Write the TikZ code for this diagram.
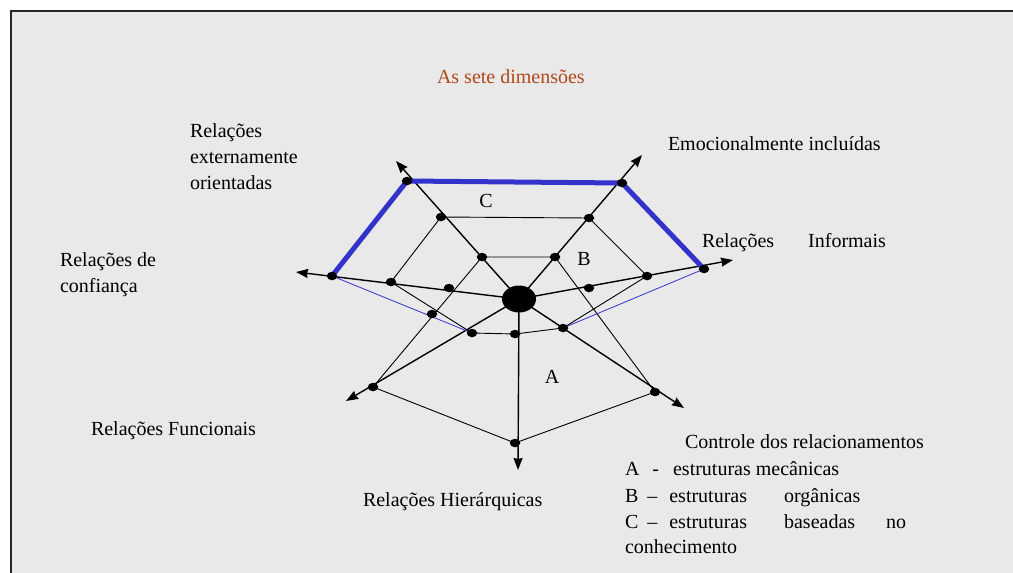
\documentclass[tikz,border=0pt]{standalone}
\usepackage{fontspec}
\setmainfont{Liberation Serif}
\usetikzlibrary{arrows.meta,shapes.geometric}
\definecolor{panel}{HTML}{E9E9E9}
\definecolor{titlebrown}{HTML}{B0481C}
\definecolor{netblue}{HTML}{3333CC}
\pgfdeclarelayer{back}
\pgfdeclarelayer{web}
\pgfsetlayers{back,web,main}

\begin{document}
\begin{tikzpicture}[x=1pt,y=-1pt,
  every node/.style={font=\fontsize{20}{26}\selectfont, inner sep=0pt, outer sep=0pt},
  lbl/.style={anchor=base west},
  axis/.style={line width=1.4pt, -{Stealth[length=12pt,width=9pt,inset=1pt]}},
  webline/.style={line width=0.9pt},
  ctrace/.style={draw=netblue, line width=5pt, line join=round, line cap=round},
  clink/.style={draw=netblue, line width=0.8pt},
  dot/.style={ellipse, fill=black, minimum width=10.5pt, minimum height=8.5pt},
  hub/.style={ellipse, fill=black, minimum width=34pt, minimum height=27pt}]

\useasboundingbox (0,0) rectangle (1013,573);

% panel and its frame
\begin{pgfonlayer}{back}
  \fill[panel] (11,11) rectangle (1013,573);
  \draw[line width=1.8pt, black!85] (11,573) -- (11,11) -- (1013,11);
\end{pgfonlayer}

% centre and axis ends
\node[hub] (c) at (519,299) {};
\coordinate (tUL) at (396,161);
\coordinate (tUR) at (642,155);
\coordinate (tR)  at (733,260);
\coordinate (tL)  at (296,272);
\coordinate (tDL) at (346,401);
\coordinate (tDR) at (684,408);
\coordinate (tD)  at (518,470);

% dots on the axes
\node[dot] (ul1) at (482,257) {};
\node[dot] (ul2) at (441,217) {};
\node[dot] (ul3) at (407,181) {};
\node[dot] (ur1) at (555,257) {};
\node[dot] (ur2) at (589,218) {};
\node[dot] (ur3) at (622,183) {};
\node[dot] (r1)  at (589,288) {};
\node[dot] (r2)  at (647,276) {};
\node[dot] (r3)  at (704,269) {};
\node[dot] (l1)  at (449,288) {};
\node[dot] (l2)  at (391,282) {};
\node[dot] (l3)  at (332,276) {};
\node[dot] (dl1) at (472,333) {};
\node[dot] (dl2) at (373,387) {};
\node[dot] (dr1) at (563,328) {};
\node[dot] (dr2) at (655,392) {};
\node[dot] (d1)  at (515,334) {};
\node[dot] (d2)  at (515,443) {};
\node[dot] (x1)  at (432,314) {};

\begin{pgfonlayer}{web}
  % axes
  \foreach \t in {tUL,tUR,tR,tL,tDL,tDR,tD}
    \draw[axis] (c.center) -- (\t);
  % structure A
  \draw[webline] (dl2.center) -- (ul1.center) -- (ur1.center) -- (dr2.center)
                 -- (d2.center) -- cycle;
  % structure B
  \draw[webline] (dl1.center) -- (l2.center) -- (ul2.center) -- (ur2.center)
                 -- (r2.center) -- (dr1.center);
  \draw[webline] (dl1.center) -- (d1.center) -- (dr1.center);
  % structure C
  \draw[ctrace] (l3.center) -- (ul3.center) -- (ur3.center) -- (r3.center);
  \draw[clink] (l3.center) -- (dl1.center);
  \draw[clink] (r3.center) -- (dr1.center);
\end{pgfonlayer}

% region letters
\node (lC) at (486,201) {C};
\node (lB) at (584,259) {B};
\node (lA) at (552,377) {A};

% title
\node[lbl, text=titlebrown] (title) at (437,83) {As sete dimensões};

% axis labels
\node[lbl] (ext1) at (190,137) {Relações};
\node[lbl] (ext2) at (190,163) {externamente};
\node[lbl] (ext3) at (190,189) {orientadas};
\node[lbl] (emo)  at (668,150) {Emocionalmente incluídas};
\node[lbl] (inf)  at (702,247) {Relações\hspace{34pt}Informais};
\node[lbl] (con1) at (60,266) {Relações de};
\node[lbl] (con2) at (60,292) {confiança};
\node[lbl] (fun)  at (91,435) {Relações Funcionais};
\node[lbl] (hie)  at (363,506) {Relações Hierárquicas};
\node[lbl] (ctl)  at (685,448) {Controle dos relacionamentos};

% legend
\node[lbl] (legA) at (625,475) {A\hspace{13pt}-\hspace{14pt}estruturas mecânicas};
\node[lbl] (legB) at (625,502) {B\hspace{9pt}–\hspace{12pt}estruturas\hspace{37pt}orgânicas};
\node[lbl] (legC) at (625,528) {C\hspace{9pt}–\hspace{12pt}estruturas\hspace{37pt}baseadas\hspace{31pt}no};
\node[lbl] (legD) at (625,553) {conhecimento};

\end{tikzpicture}
\end{document}
